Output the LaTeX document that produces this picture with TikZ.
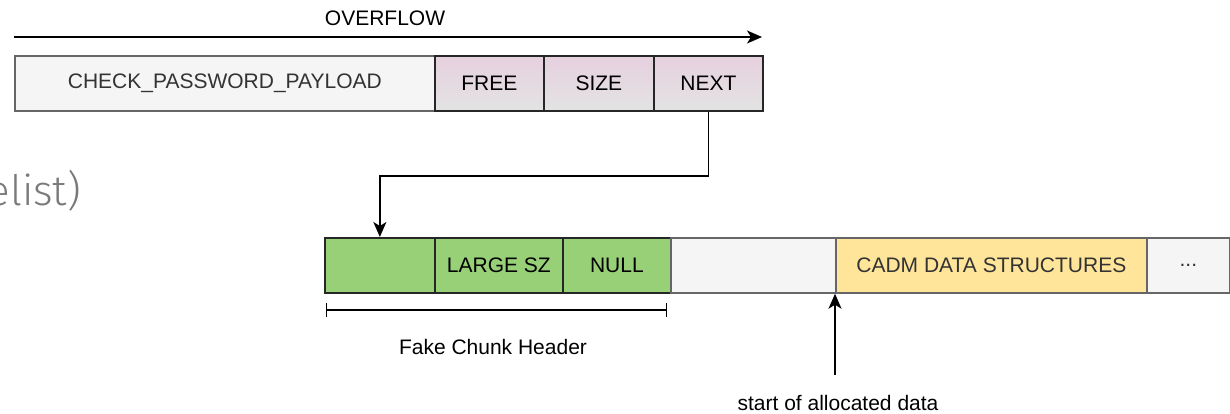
\documentclass[tikz,border=0pt]{standalone}
\usepackage{fontspec}
\setmainfont{Liberation Sans}
\newfontfamily\thinfont{Fira Sans Light}
\usetikzlibrary{arrows.meta}
\definecolor{paleGray}{HTML}{F5F5F5}
\definecolor{edgeGray}{HTML}{666666}
\definecolor{textGray}{HTML}{333333}
\definecolor{mauveTop}{HTML}{E6D0DE}
\definecolor{mauveBottom}{HTML}{E3E3E3}
\definecolor{chunkGreen}{HTML}{97D077}
\definecolor{dataYellow}{HTML}{FFE599}
\definecolor{titleGray}{HTML}{7A7A7A}
\begin{document}
\begin{tikzpicture}[x=1pt,y=-1pt,
  font=\fontsize{21}{25}\selectfont,
  cell/.style={draw, line width=1.7pt, minimum height=55pt, inner sep=0pt, anchor=north west},
  graycell/.style={cell, draw=edgeGray, fill=paleGray, text=textGray},
  mauvecell/.style={cell, draw=black!85, top color=mauveTop, bottom color=mauveBottom},
  greencell/.style={cell, draw=black!85, fill=chunkGreen},
  yellowcell/.style={cell, draw=edgeGray, fill=dataYellow, text=textGray},
  link/.style={line width=1.7pt, -{Stealth[length=15pt,width=13pt,inset=4pt]}},
  label/.style={inner sep=0pt}
]
\useasboundingbox (0,0) rectangle (1230,413);

% heading fragment on the left
\node[font=\thinfont\fontsize{42}{46}\selectfont, text=titleGray, anchor=base east, inner sep=0pt] (title) at (81,205) {elist)};

% overflowing buffer
\node[graycell, minimum width=420pt] (payload) at (14,55) {CHECK\_PASSWORD\_PAYLOAD};
\node[mauvecell, minimum width=109pt] (free) at (434,55) {FREE};
\node[mauvecell, minimum width=110pt] (size) at (543,55) {SIZE};
\node[mauvecell, minimum width=109pt] (next) at (653,55) {NEXT};

% overflow direction
\node[label] (overflow) at (385,18) {OVERFLOW};
\coordinate (ovStart) at (14,37);
\coordinate (ovEnd) at (762,37);
\draw[link] (ovStart) -- (ovEnd);

% fake chunk and following heap memory
\node[greencell, minimum width=110pt] (fake) at (324,237) {};
\node[greencell, minimum width=128pt] (large) at (434,237) {LARGE SZ};
\node[greencell, minimum width=108pt] (null) at (562,237) {NULL};
\node[graycell, minimum width=165pt] (gap) at (670,237) {};
\node[yellowcell, minimum width=311pt] (cadm) at (835,237) {CADM DATA STRUCTURES};
\node[graycell, minimum width=83pt] (more) at (1146,237) {...};

% NEXT pointer redirected to the fake chunk
\draw[link] (next.south) -- ++(0,64) -| (fake.north);

% extent of the fake chunk header
\coordinate (dimL) at (326,310);
\coordinate (dimR) at (667,310);
\draw[line width=1.6pt, {Bar[width=14pt,line width=1.3pt]}-{Bar[width=14pt,line width=1.3pt]}] (dimL) -- (dimR);
\node[label] (fakeLabel) at (493,347) {Fake Chunk Header};

% start of the allocation
\coordinate (allocBase) at (835,375);
\draw[link] (allocBase) -- (cadm.south west);
\node[label] (allocLabel) at (838,403) {start of allocated data};
\end{tikzpicture}
\end{document}
